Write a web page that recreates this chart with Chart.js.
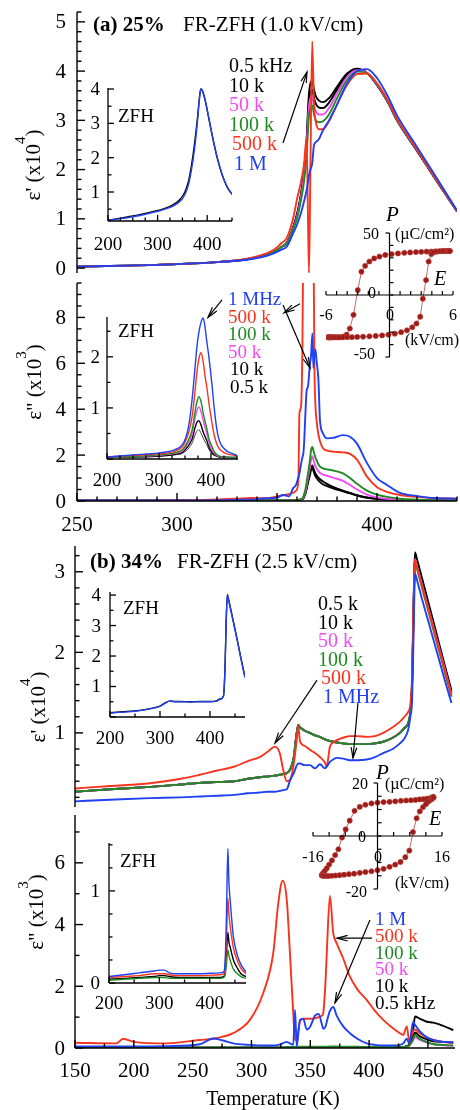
<!DOCTYPE html>
<html>
<head>
<meta charset="utf-8">
<title>FR-ZFH dielectric response</title>
<script src="https://cdn.jsdelivr.net/npm/chart.js@4.4.1/dist/chart.umd.min.js"></script>
<style>
  html, body { margin: 0; padding: 0; background: #fff; }
  #wrap { position: relative; width: 460px; height: 1110px; overflow: hidden; background: #fff; }
  #wrap canvas { position: absolute; left: 0; top: 0; }
</style>
</head>
<body>
<div id="wrap"></div>
<script>
// ---------------- data ----------------

// (a) 25%  eps' x10^4, main panel
const tA1 = [250,275,300,320,335,342,347,350,352,355,358,360,362,363.5,364.8,365.5,366,366.7,367.6,368.5,369.5,371,373,376,380,385,390,395,400,405,410,420,430,440];
const a1_05k = [0.03,0.05,0.08,0.12,0.18,0.24,0.30,0.36,0.42,0.52,0.82,1.10,1.50,2.00,2.60,3.20,3.55,3.75,3.80,3.62,3.48,3.40,3.37,3.45,3.68,3.95,4.05,3.96,3.72,3.40,3.00,2.38,1.76,1.15];
const a1_10k = [0.03,0.05,0.08,0.12,0.18,0.24,0.30,0.36,0.42,0.52,0.82,1.08,1.48,1.95,2.55,3.10,3.40,3.58,3.62,3.45,3.33,3.26,3.25,3.36,3.62,3.92,4.04,3.96,3.72,3.40,3.00,2.38,1.76,1.15];
const a1_50k = [0.03,0.05,0.08,0.12,0.18,0.24,0.30,0.36,0.42,0.51,0.80,1.05,1.45,1.88,2.48,3.00,3.28,3.45,3.48,3.30,3.18,3.12,3.12,3.25,3.55,3.88,4.02,3.96,3.73,3.41,3.01,2.39,1.77,1.15];
const a1_100k = [0.03,0.05,0.08,0.12,0.18,0.24,0.30,0.37,0.43,0.50,0.78,1.00,1.38,1.75,2.30,2.80,3.08,3.25,3.30,3.12,3.00,2.96,2.98,3.12,3.45,3.82,3.99,3.96,3.74,3.42,3.02,2.40,1.78,1.16];
const a1_500k = [0.03,0.05,0.08,0.12,0.19,0.26,0.34,0.42,0.50,0.62,1.00,1.40,1.75,2.10,2.64,1.00,-0.10,2.00,4.60,3.30,2.95,2.82,2.82,2.98,3.32,3.72,3.94,3.95,3.75,3.43,3.03,2.41,1.78,1.16];
const a1_1M = [0.03,0.05,0.08,0.12,0.17,0.22,0.28,0.33,0.37,0.44,0.70,0.88,1.12,1.35,1.58,1.75,1.88,2.00,2.12,2.50,2.56,2.62,2.80,3.00,3.32,3.75,4.00,4.04,3.86,3.52,3.10,2.46,1.82,1.17];

// (a) inset, ZFH eps'
const tA1i = [200,250,300,330,345,355,362,368,374,380,384,387,390,395,400,410,420,430,440,450];
const a1i_05k = [0.18,0.30,0.46,0.62,0.78,1.00,1.30,1.75,2.35,3.10,3.70,4.00,3.95,3.72,3.38,2.65,2.00,1.50,1.15,0.93];
const a1i_1M = [0.17,0.28,0.44,0.58,0.72,0.92,1.20,1.62,2.20,3.00,3.65,4.00,3.97,3.75,3.40,2.67,2.02,1.52,1.16,0.94];

// (a) 25%  eps'' x10^3, main panel
const tA2 = [250,300,330,337,345,350,353,356,358,359.5,360.7,361.2,362,362.7,363.2,363.6,364.2,364.8,365.5,366.5,367.0,367.7,368.2,368.7,369.2,369.8,370.7,371.5,373,375,378,383,386.5,390,395,400,405,411.5,420,428,440];
const a2_500k = [0.02,0.03,0.10,0.13,0.12,0.20,0.25,0.30,0.35,0.45,0.90,3.80,4.10,6.70,12,14,14,14,14,14,14,14,12,6.0,4.2,3.5,2.9,2.6,2.3,2.2,2.15,2.12,2.05,1.8,1.06,0.6,0.4,0.26,0.18,0.13,0.10];
const a2_1M = [0.02,0.02,0.05,0.06,0.12,0.15,0.26,0.20,0.55,0.70,1.04,1.20,1.60,1.90,2.10,2.60,3.80,4.80,5.00,6.00,6.30,7.30,5.80,6.40,6.60,6.10,5.30,3.50,2.95,2.73,2.75,2.87,2.80,2.50,1.65,1.00,0.70,0.35,0.22,0.13,0.10];
const a2_100k = [0.02,0.02,0.02,0.02,0.02,0.02,0.02,0.02,0.03,0.04,0.05,0.06,0.08,0.12,0.20,0.30,0.50,0.80,1.20,1.80,2.20,2.35,2.20,2.05,1.90,1.78,1.60,1.50,1.42,1.38,1.33,1.20,1.00,0.75,0.45,0.28,0.18,0.10,0.06,0.04,0.03];
const a2_50k = [0.02,0.02,0.02,0.02,0.02,0.02,0.02,0.02,0.03,0.04,0.05,0.06,0.07,0.10,0.16,0.25,0.40,0.65,1.00,1.50,1.80,1.95,1.80,1.65,1.52,1.42,1.30,1.22,1.15,1.10,1.02,0.88,0.70,0.50,0.28,0.16,0.10,0.06,0.04,0.03,0.02];
const a2_10k = [0.02,0.02,0.02,0.02,0.02,0.02,0.02,0.02,0.03,0.03,0.04,0.05,0.06,0.08,0.12,0.20,0.35,0.55,0.85,1.25,1.45,1.55,1.42,1.30,1.20,1.12,1.02,0.95,0.85,0.75,0.62,0.45,0.35,0.25,0.15,0.10,0.07,0.05,0.03,0.02,0.02];
const a2_05k = [0.02,0.02,0.02,0.02,0.02,0.02,0.02,0.02,0.03,0.03,0.04,0.05,0.06,0.08,0.12,0.20,0.33,0.52,0.80,1.15,1.35,1.45,1.32,1.20,1.08,1.00,0.90,0.82,0.72,0.65,0.55,0.42,0.33,0.24,0.14,0.09,0.06,0.04,0.03,0.02,0.02];

// (a) inset, ZFH eps''
const tA2i = [200,250,300,330,345,352,358,364,369,373,377,381,385,389,392,396,402,406,411,415,420,430,440,450];
const a2i_1M = [0.04,0.08,0.12,0.18,0.28,0.43,0.70,1.20,1.75,2.20,2.50,2.68,2.76,2.55,2.30,2.00,1.45,1.02,0.60,0.40,0.27,0.16,0.11,0.07];
const a2i_500k = [0.04,0.07,0.10,0.15,0.24,0.37,0.55,0.85,1.30,1.70,1.98,2.08,1.90,1.60,1.41,1.10,0.70,0.48,0.30,0.22,0.16,0.10,0.08,0.06];
const a2i_100k = [0.03,0.05,0.08,0.12,0.18,0.28,0.40,0.58,0.90,1.12,1.22,1.12,0.90,0.72,0.60,0.40,0.24,0.15,0.09,0.06,0.05,0.04,0.03,0.03];
const a2i_50k = [0.03,0.05,0.07,0.11,0.16,0.25,0.35,0.50,0.78,0.95,1.02,0.92,0.75,0.60,0.50,0.33,0.18,0.12,0.07,0.05,0.04,0.03,0.03,0.03];
const a2i_10k = [0.03,0.04,0.06,0.09,0.13,0.20,0.28,0.40,0.60,0.72,0.75,0.66,0.53,0.43,0.36,0.24,0.13,0.09,0.06,0.04,0.03,0.03,0.03,0.03];
const a2i_05k = [0.03,0.04,0.05,0.08,0.11,0.16,0.22,0.32,0.46,0.55,0.57,0.50,0.41,0.33,0.28,0.19,0.10,0.07,0.05,0.04,0.03,0.03,0.03,0.03];

// (b) 34%  eps' x10^4, main panel
const tB1 = [150,180,214,240,256,270,285,297,307,314,320,324,327,330,333,336,338,339.8,341.2,345,349.7,354,358.2,362.5,363.9,366.7,369.5,372.4,378,383.7,390,398,405,412,420,426.2,430,433.2,435,436.5,437.5,438.3,439,441,445,450,455,460,465,470];
const b1_05k = [0.27,0.30,0.33,0.36,0.38,0.39,0.40,0.43,0.45,0.46,0.47,0.48,0.49,0.50,0.55,0.70,0.95,1.10,1.07,1.03,1.00,0.97,0.95,0.92,0.91,0.90,0.89,0.88,0.87,0.86,0.86,0.86,0.87,0.89,0.94,1.00,1.06,1.12,1.25,1.62,2.36,2.95,3.24,3.14,2.92,2.64,2.36,2.08,1.80,1.53];
const b1_10k = [0.27,0.30,0.33,0.36,0.38,0.39,0.40,0.43,0.45,0.46,0.47,0.48,0.49,0.50,0.55,0.70,0.95,1.10,1.07,1.03,1.00,0.97,0.95,0.92,0.91,0.90,0.89,0.88,0.87,0.86,0.86,0.86,0.87,0.89,0.94,1.00,1.06,1.12,1.25,1.60,2.34,2.92,3.20,3.10,2.88,2.60,2.32,2.05,1.78,1.50];
const b1_50k = [0.27,0.30,0.33,0.36,0.38,0.39,0.40,0.43,0.45,0.46,0.47,0.48,0.49,0.50,0.55,0.70,0.95,1.10,1.07,1.03,1.00,0.97,0.95,0.92,0.91,0.90,0.89,0.88,0.87,0.86,0.86,0.86,0.87,0.89,0.94,1.00,1.06,1.12,1.25,1.60,2.32,2.88,3.16,3.06,2.84,2.57,2.30,2.03,1.76,1.48];
const b1_100k = [0.27,0.30,0.33,0.36,0.38,0.39,0.40,0.43,0.45,0.46,0.47,0.48,0.49,0.50,0.55,0.70,0.95,1.10,1.07,1.03,1.00,0.97,0.95,0.92,0.91,0.90,0.89,0.88,0.87,0.86,0.86,0.86,0.87,0.89,0.94,1.00,1.06,1.12,1.25,1.60,2.30,2.85,3.12,3.02,2.80,2.53,2.26,1.99,1.72,1.45];
const b1_500k = [0.31,0.34,0.375,0.43,0.48,0.53,0.58,0.65,0.70,0.77,0.83,0.75,0.54,0.40,0.42,0.62,0.85,1.08,0.90,0.84,0.79,0.75,0.70,0.63,0.58,0.83,0.88,0.91,0.94,0.96,0.96,0.95,0.96,1.00,1.07,1.14,1.20,1.26,1.35,1.70,2.40,2.90,3.15,3.04,2.82,2.55,2.28,2.01,1.74,1.47];
const b1_1M = [0.15,0.17,0.19,0.20,0.21,0.22,0.23,0.25,0.26,0.27,0.27,0.28,0.29,0.30,0.42,0.50,0.58,0.62,0.62,0.60,0.60,0.56,0.61,0.56,0.58,0.64,0.67,0.69,0.68,0.66,0.66,0.67,0.70,0.75,0.80,0.87,0.93,1.04,1.20,1.40,2.00,2.60,2.98,2.88,2.66,2.40,2.14,1.88,1.62,1.37];

// (b) inset, ZFH eps'
const tB1i = [200,225,250,275,300,310,320,330,340,360,380,400,413,420,427,430,432.5,434.7,437,441,447,455,462,470];
const b1i_05k = [0.14,0.17,0.20,0.26,0.36,0.46,0.53,0.51,0.51,0.50,0.51,0.51,0.53,0.59,0.70,1.60,3.20,4.02,3.87,3.57,3.11,2.49,1.92,1.31];
const b1i_1M = [0.13,0.16,0.19,0.25,0.35,0.45,0.52,0.50,0.50,0.49,0.50,0.50,0.52,0.58,0.69,1.60,3.20,4.00,3.85,3.55,3.09,2.47,1.90,1.29];

// (b) 34%  eps'' x10^3, main panel
const tB2 = [150,185,191,200,228,256,267.5,275,284.5,298.7,310,318.5,322.8,326.5,330,332.7,335.5,337,338.5,341.2,344,347,350,354,357,360,361,363,364,366.7,369.5,372.4,378,383.7,390,397.9,405,412,420,426.2,429,432,434,437.5,439,443,449,454.5,463,471.5];
const b2_500k = [0.17,0.15,0.30,0.20,0.15,0.26,0.30,0.36,0.48,0.91,1.78,3.07,4.70,5.42,4.80,3.07,1.13,0.26,0.30,0.85,0.95,0.95,0.95,0.96,1.00,1.05,1.13,2.20,3.07,4.93,3.72,3.40,2.90,2.31,1.90,1.56,1.20,0.91,0.65,0.48,0.42,0.70,0.25,0.55,0.60,0.48,0.35,0.26,0.20,0.15];
const b2_1M = [0.05,0.05,0.05,0.05,0.06,0.12,0.31,0.25,0.15,0.10,0.08,0.08,0.10,0.15,0.20,0.15,0.10,1.23,0.05,0.91,0.95,0.60,0.70,1.05,1.10,0.75,0.62,0.70,0.85,1.20,1.33,1.05,0.70,0.48,0.30,0.15,0.10,0.08,0.08,0.10,0.15,0.30,0.15,0.85,0.75,0.55,0.35,0.26,0.20,0.18];
const b2_100k = [0.02,0.02,0.02,0.02,0.02,0.02,0.02,0.02,0.02,0.02,0.02,0.02,0.02,0.02,0.03,0.03,0.03,0.04,0.04,0.04,0.04,0.04,0.04,0.04,0.04,0.04,0.04,0.04,0.04,0.05,0.05,0.05,0.04,0.04,0.04,0.03,0.03,0.03,0.03,0.03,0.03,0.05,0.08,0.30,0.42,0.30,0.20,0.13,0.10,0.08];
const b2_50k = [0.01,0.01,0.01,0.01,0.01,0.01,0.01,0.01,0.01,0.01,0.01,0.01,0.01,0.01,0.02,0.02,0.02,0.02,0.02,0.02,0.02,0.02,0.02,0.02,0.02,0.02,0.02,0.02,0.02,0.03,0.03,0.03,0.02,0.02,0.02,0.02,0.02,0.02,0.02,0.02,0.02,0.04,0.07,0.25,0.35,0.26,0.18,0.12,0.09,0.07];
const b2_10k = [0.01,0.01,0.01,0.01,0.01,0.01,0.01,0.01,0.01,0.01,0.01,0.01,0.01,0.01,0.01,0.01,0.01,0.01,0.01,0.01,0.01,0.01,0.01,0.01,0.01,0.01,0.01,0.01,0.01,0.01,0.01,0.01,0.01,0.01,0.01,0.01,0.01,0.01,0.01,0.01,0.02,0.05,0.10,0.35,0.50,0.38,0.28,0.22,0.20,0.18];
const b2_05k = [0.01,0.01,0.01,0.01,0.01,0.01,0.01,0.01,0.01,0.01,0.01,0.01,0.01,0.01,0.01,0.01,0.01,0.01,0.01,0.01,0.01,0.01,0.01,0.01,0.01,0.01,0.01,0.01,0.01,0.01,0.01,0.01,0.01,0.01,0.01,0.01,0.01,0.01,0.01,0.01,0.03,0.06,0.12,0.60,1.02,0.95,0.85,0.82,0.72,0.58];

// (b) inset, ZFH eps''
const tB2i = [200,230,260,290,300,310,320,340,380,420,428,431,433,436,438,441,447,455,462,472];
const b2i_1M = [0.07,0.09,0.11,0.13,0.14,0.14,0.11,0.10,0.10,0.11,0.12,0.30,0.68,1.46,1.10,0.87,0.50,0.30,0.20,0.12];
const b2i_500k = [0.06,0.07,0.08,0.10,0.10,0.10,0.09,0.08,0.08,0.09,0.10,0.20,0.45,0.92,0.75,0.60,0.38,0.24,0.16,0.10];
const b2i_05k = [0.04,0.05,0.06,0.07,0.08,0.08,0.07,0.06,0.06,0.06,0.07,0.15,0.30,0.55,0.45,0.38,0.25,0.16,0.10,0.07];
const b2i_100k = [0.03,0.04,0.05,0.06,0.06,0.06,0.05,0.05,0.05,0.05,0.06,0.10,0.20,0.36,0.30,0.24,0.15,0.10,0.07,0.05];

// P-E loops (E in kV/cm, P in uC/cm2)
const loopA_E = [5.7,5.6,5.45,5.25,5.0,4.7,4.35,3.95,3.5,3.0,2.5,1.95,1.4,0.8,0.2,-0.4,-0.95,-1.45,-1.9,-2.3,-2.65,-3.0,-3.4,-3.75,-4.05,-4.35,-4.65,-4.9,-5.15,-5.35,-5.5,-5.65,-5.75,-5.8,
                 -5.8,-5.75,-5.65,-5.5,-5.3,-5.05,-4.75,-4.4,-4.0,-3.55,-3.05,-2.5,-1.9,-1.3,-0.7,-0.1,0.5,1.1,1.65,2.15,2.55,2.9,3.15,3.45,3.7,3.95,4.2,4.5,4.8,5.05,5.3,5.5,5.6,5.7];
const loopA_P = [35.5,35.5,35.5,35.5,35.5,35.3,35.2,35.0,35.0,34.8,34.6,34.3,34.0,33.5,33.0,32.3,31.0,29.5,27.0,23.5,18.8,4.0,-16.0,-27.0,-32.0,-33.5,-34.0,-34.0,-34.0,-34.0,-34.0,-34.0,-34.0,-34.0,
                 -34.2,-34.2,-34.2,-34.2,-34.2,-34.2,-34.2,-34.1,-34.0,-34.0,-33.8,-33.6,-33.3,-33.0,-32.6,-32.0,-31.2,-30.0,-28.5,-26.0,-23.0,-17.5,-3.0,12.0,27.0,33.0,34.5,35.0,35.3,35.4,35.5,35.5,35.5,35.5];
const loopB_E = [13.9,13.8,13.6,13.2,12.7,12.1,11.3,10.4,9.4,8.3,7.1,5.8,4.4,3.0,1.5,0,-1.5,-3.0,-4.4,-5.7,-6.9,-7.9,-8.8,-9.7,-10.5,-11.3,-12.0,-12.6,-13.1,-13.5,-13.7,-13.8,
                 -13.8,-13.6,-13.2,-12.7,-12.1,-11.3,-10.4,-9.4,-8.3,-7.1,-5.8,-4.4,-3.0,-1.5,0,1.5,3.0,4.4,5.7,6.9,7.9,8.8,9.7,10.5,11.3,12.0,12.6,13.1,13.5,13.7,13.9];
const loopB_P = [14.6,14.8,14.6,14.3,14.1,14.0,13.9,13.8,13.6,13.5,13.4,13.3,13.1,12.9,12.8,12.6,12.3,11.8,11.0,9.5,5.8,2.5,-0.6,-5.0,-7.2,-9.2,-10.8,-12.2,-13.2,-14.0,-14.5,-14.8,
                 -14.8,-15.0,-15.1,-15.1,-15.1,-15.0,-14.9,-14.8,-14.6,-14.4,-14.2,-13.9,-13.6,-13.3,-12.9,-12.4,-11.6,-10.8,-9.8,-8.0,-5.5,1.5,6.7,9.3,10.9,12.0,13.0,13.6,14.0,14.3,14.6];

// ---------------- drawing helpers ----------------
const S = '"Liberation Serif", "Times New Roman", serif';
const COL = { k: '#000000', m: '#f24cf2', g: '#1f8a22', r: '#f7341d', b: '#2040f2' };
const wrap = document.getElementById('wrap');

function pts(xs, ys) { return xs.map((x, i) => ({ x: x, y: ys[i] })); }

// curves vs temperature: smooth but never overshooting
function ser(xs, ys, color, w) {
  return { data: pts(xs, ys), borderColor: color, borderWidth: w, showLine: true, pointRadius: 0,
           fill: false, cubicInterpolationMode: 'monotone' };
}

function line(c, x1, y1, x2, y2) { c.beginPath(); c.moveTo(x1, y1); c.lineTo(x2, y2); c.stroke(); }

function tickVals(min, max, step) {
  const out = [];
  const i0 = Math.ceil(min / step - 1e-6), i1 = Math.floor(max / step + 1e-6);
  for (let i = i0; i <= i1; i++) out.push(i * step);
  return out;
}
function isMult(v, s) { const r = v / s; return Math.abs(r - Math.round(r)) < 1e-6; }

function drawY(c, xs, ys, a, q) {
  const X = q.zero ? xs.getPixelForValue(0) : a.left;
  line(c, X, a.top, X, a.bottom);
  tickVals(ys.min, ys.max, q.minor).forEach(v => {
    const Y = ys.getPixelForValue(v);
    let d = 1;
    if (q.endsOut && (Math.abs(v - ys.max) < 1e-6 || Math.abs(v - ys.min) < 1e-6)) d = -1;
    line(c, X, Y, X + d * (isMult(v, q.major) ? q.len : q.mlen), Y);
  });
  c.font = q.font || ('21px ' + S); c.textAlign = 'right'; c.textBaseline = 'middle';
  (q.labels || []).forEach(v => c.fillText(String(v), q.lx, ys.getPixelForValue(v) + 1));
}

function drawX(c, xs, ys, a, q) {
  const Y = q.zero ? ys.getPixelForValue(0) : a.bottom;
  line(c, a.left, Y, a.right, Y);
  tickVals(xs.min, xs.max, q.minor).forEach(v => {
    const X = xs.getPixelForValue(v);
    line(c, X, Y, X, Y - (isMult(v, q.major) ? q.len : q.mlen));
  });
  c.font = q.font || ('21px ' + S); c.textAlign = 'center'; c.textBaseline = 'middle';
  (q.labels || []).forEach(v => c.fillText(String(v), xs.getPixelForValue(v), q.ly));
}

function arrow(c, x1, y1, x2, y2) {
  c.lineWidth = 1.2;
  line(c, x1, y1, x2, y2);
  const ang = Math.atan2(y2 - y1, x2 - x1), L = 11, w = 0.26;
  c.beginPath();
  c.moveTo(x2 - L * Math.cos(ang - w), y2 - L * Math.sin(ang - w));
  c.lineTo(x2, y2);
  c.lineTo(x2 - L * Math.cos(ang + w), y2 - L * Math.sin(ang + w));
  c.stroke();
}

function text(c, t) {
  c.save();
  c.fillStyle = t.color || '#000';
  c.textBaseline = 'alphabetic';
  c.translate(t.x, t.y);
  if (t.rot) c.rotate(-Math.PI / 2);
  if (t.parts) {
    let w = 0;
    t.parts.forEach(p => { c.font = p[1] ? t.supFont : t.font; w += c.measureText(p[0]).width; });
    let x = -w / 2;
    c.textAlign = 'left';
    t.parts.forEach(p => {
      c.font = p[1] ? t.supFont : t.font;
      c.fillText(p[0], x, p[1] ? -t.supDy : 0);
      x += c.measureText(p[0]).width;
    });
  } else {
    c.font = t.font || ('20px ' + S);
    c.textAlign = t.align || 'left';
    c.fillText(t.s, 0, 0);
  }
  c.restore();
}

function decor(cfg) {
  return {
    id: 'decor',
    afterDatasetsDraw(chart) {
      const c = chart.ctx, xs = chart.scales.x, ys = chart.scales.y, a = chart.chartArea;
      c.save();
      c.strokeStyle = '#000'; c.fillStyle = '#000'; c.lineWidth = cfg.lw || 1.4;
      if (cfg.y) drawY(c, xs, ys, a, cfg.y);
      c.lineWidth = cfg.lw || 1.4;
      if (cfg.x) drawX(c, xs, ys, a, cfg.x);
      (cfg.arrows || []).forEach(ar => arrow(c,
        xs.getPixelForValue(ar[0]), ys.getPixelForValue(ar[1]),
        xs.getPixelForValue(ar[2]), ys.getPixelForValue(ar[3])));
      (cfg.texts || []).forEach(t => text(c, t));
      c.restore();
    }
  };
}

// box = [left, top, right, bottom] of the plot area in page pixels
function panel(box, xr, yr, datasets, cfg) {
  const cv = document.createElement('canvas');
  cv.width = 460; cv.height = 1110;
  cv.style.width = '460px'; cv.style.height = '1110px';
  wrap.appendChild(cv);
  return new Chart(cv.getContext('2d'), {
    type: 'scatter',
    data: { datasets: datasets },
    options: {
      responsive: false,
      animation: false,
      devicePixelRatio: 1,
      layout: { padding: { left: box[0], top: box[1], right: 460 - box[2], bottom: 1110 - box[3] } },
      scales: {
        x: { type: 'linear', min: xr[0], max: xr[1], display: false },
        y: { type: 'linear', min: yr[0], max: yr[1], display: false }
      },
      plugins: { legend: { display: false }, tooltip: { enabled: false } },
      elements: { point: { radius: 0 }, line: { tension: 0 } }
    },
    plugins: [decor(cfg)]
  });
}

function legend(x, y0, step, items, size) {
  return items.map((it, i) => ({ s: it[0], color: it[1], x: x + (it[2] || 0), y: y0 + i * step, font: size + 'px ' + S }));
}
function yTitle(prime, exp, x, y) {
  return { parts: [['\u03b5' + prime + ' (x10', 0], [exp, 1], [')', 0]], x: x, y: y, rot: true,
           font: '21px ' + S, supFont: '15px ' + S, supDy: 15 };
}

const W = 1.9, WI = 1.4;

// ---------------- (a) eps' ----------------
panel([77, 12, 457, 273], [250, 440], [-0.1, 5.2], [
  ser(tA1, a1_1M, COL.b, W), ser(tA1, a1_500k, COL.r, W), ser(tA1, a1_100k, COL.g, W),
  ser(tA1, a1_50k, COL.m, W), ser(tA1, a1_10k, COL.k, W), ser(tA1, a1_05k, COL.k, W)
], {
  y: { minor: 0.2, major: 1, len: 8, mlen: 4.5, labels: [0, 1, 2, 3, 4, 5], lx: 66 },
  arrows: [[353, 2.54, 365, 3.98]],
  texts: [
    { s: '(a) 25%', x: 93, y: 31, font: 'bold 21px ' + S },
    { s: 'FR-ZFH (1.0 kV/cm)', x: 183, y: 31, font: '21px ' + S },
    yTitle("'", '4', 40, 165)
  ].concat(legend(229, 72, 19.6, [['0.5 kHz', COL.k], ['10 k', COL.k], ['50 k', COL.m], ['100 k', COL.g], ['500 k', COL.r, 3], ['1 M', COL.b, 5]], 20))
});

panel([108, 88, 232, 221], [200, 450], [0.155, 4.03], [
  ser(tA1i, a1i_1M, COL.b, WI), ser(tA1i, a1i_05k, COL.k, WI)
], {
  lw: 1.3,
  y: { minor: 0.5, major: 1, len: 6, mlen: 3.5, labels: [1, 2, 3, 4], lx: 100, font: '19px ' + S },
  x: { minor: 25, major: 100, len: 6, mlen: 3.5, labels: [200, 300, 400], ly: 245, font: '19px ' + S },
  texts: [{ s: 'ZFH', x: 118, y: 122, font: '19px ' + S }]
});

// ---------------- (a) eps'' ----------------
panel([77, 283, 457, 501], [250, 440], [0, 9.5], [
  ser(tA2, a2_1M, COL.b, W), ser(tA2, a2_500k, COL.r, W), ser(tA2, a2_100k, COL.g, W),
  ser(tA2, a2_50k, COL.m, W), ser(tA2, a2_10k, COL.k, W), ser(tA2, a2_05k, COL.k, W)
], {
  y: { minor: 0.5, major: 2, len: 8, mlen: 4.5, labels: [0, 2, 4, 6, 8], lx: 66 },
  x: { minor: 10, major: 50, len: 8, mlen: 4.5, labels: [250, 300, 350, 400], ly: 525 },
  arrows: [[322.5, 8.76, 315.5, 8.0], [353, 8.54, 366.5, 5.8], [361.5, 8.6, 353.5, 8.2]],
  texts: [yTitle('"', '3', 41, 382)]
    .concat(legend(228, 305, 17.5, [['1 MHz', COL.b], ['500 k', COL.r], ['100 k', COL.g], ['50 k', COL.m], ['10 k', COL.k, 2], ['0.5 k', COL.k, 2]], 19))
});

panel([107, 317, 238, 459], [200, 452], [0, 2.78], [
  ser(tA2i, a2i_1M, COL.b, WI), ser(tA2i, a2i_500k, COL.r, WI), ser(tA2i, a2i_100k, COL.g, WI),
  ser(tA2i, a2i_50k, COL.m, WI), ser(tA2i, a2i_10k, COL.k, WI), ser(tA2i, a2i_05k, '#444', 1.0)
], {
  lw: 1.3,
  y: { minor: 0.5, major: 1, len: 6, mlen: 3.5, labels: [1, 2], lx: 100, font: '19px ' + S },
  x: { minor: 25, major: 100, len: 6, mlen: 3.5, labels: [200, 300, 400], ly: 481, font: '19px ' + S },
  texts: [{ s: 'ZFH', x: 118, y: 337, font: '19px ' + S }]
});

// P-E loop (a)
panel([326, 233, 453, 357], [-6, 6], [-50, 50], [
  { data: pts(loopA_E, loopA_P), showLine: true, borderColor: '#c45a55', borderWidth: 0.9,
    pointRadius: 2.6, pointBackgroundColor: '#9c1b17', pointBorderColor: '#b8423d', pointBorderWidth: 0.6 }
], {
  lw: 1.2,
  y: { zero: true, minor: 10, major: 50, len: 4, mlen: 4, endsOut: true, labels: [] },
  x: { zero: true, minor: 1, major: 6, len: 4, mlen: 4, labels: [] },
  texts: [
    { s: 'P', x: 386, y: 221, font: 'italic 21px ' + S },
    { s: '(\u00b5C/cm\u00b2)', x: 395, y: 239, font: '16px ' + S },
    { s: '50', x: 379, y: 239, align: 'right', font: '16px ' + S },
    { s: '-50', x: 375, y: 359, align: 'right', font: '16px ' + S },
    { s: '0', x: 372, y: 298, align: 'center', font: '16px ' + S },
    { s: '-6', x: 326, y: 320, align: 'center', font: '16px ' + S },
    { s: '0', x: 390, y: 320, align: 'center', font: '16px ' + S },
    { s: '6', x: 453, y: 320, align: 'center', font: '16px ' + S },
    { s: 'E', x: 434, y: 285, font: 'italic 20px ' + S },
    { s: '(kV/cm)', x: 432, y: 345, align: 'center', font: '16px ' + S }
  ]
});

// ---------------- (b) eps' ----------------
panel([75, 546, 455, 807], [150, 473], [0.08, 3.32], [
  ser(tB1, b1_1M, COL.b, W), ser(tB1, b1_500k, COL.r, W), ser(tB1, b1_100k, COL.g, W),
  ser(tB1, b1_50k, COL.m, W), ser(tB1, b1_10k, COL.k, W), ser(tB1, b1_05k, COL.k, W)
], {
  y: { minor: 0.2, major: 1, len: 8, mlen: 4.5, labels: [1, 2, 3], lx: 65 },
  arrows: [[355.7, 1.656, 320, 0.874], [390.5, 1.37, 386.3, 0.688]],
  texts: [
    { s: '(b) 34%', x: 90, y: 568, font: 'bold 21px ' + S },
    { s: 'FR-ZFH (2.5 kV/cm)', x: 177, y: 568, font: '21px ' + S },
    yTitle("'", '4', 45, 707)
  ].concat(legend(318, 610, 18.6, [['0.5 k', COL.k], ['10 k', COL.k], ['50 k', COL.m], ['100 k', COL.g], ['500 k', COL.r, 3], ['1 MHz', COL.b, 5]], 20))
});

panel([110, 592, 245, 717], [200, 470], [0, 4.1], [
  ser(tB1i, b1i_1M, COL.b, WI), ser(tB1i, b1i_05k, COL.k, WI)
], {
  lw: 1.3,
  y: { minor: 0.5, major: 1, len: 6, mlen: 3.5, labels: [1, 2, 3, 4], lx: 101, font: '19px ' + S },
  x: { minor: 50, major: 100, len: 6, mlen: 3.5, labels: [200, 300, 400], ly: 739, font: '19px ' + S },
  texts: [{ s: 'ZFH', x: 123, y: 614, font: '19px ' + S }]
});

// ---------------- (b) eps'' ----------------
panel([75, 815, 455, 1048], [150, 473], [0, 7.55], [
  ser(tB2, b2_1M, COL.b, W), ser(tB2, b2_500k, COL.r, W), ser(tB2, b2_100k, COL.g, W),
  ser(tB2, b2_50k, COL.m, W), ser(tB2, b2_10k, COL.k, W), ser(tB2, b2_05k, COL.k, W)
], {
  y: { minor: 1, major: 2, len: 8, mlen: 4.5, labels: [0, 2, 4, 6], lx: 65 },
  x: { minor: 25, major: 50, len: 8, mlen: 4.5, labels: [150, 200, 250, 300, 350, 400, 450], ly: 1071 },
  arrows: [[402.4, 3.56, 372.7, 3.56], [400.7, 4.15, 371, 1.46]],
  texts: [
    yTitle('"', '3', 43, 912),
    { s: 'Temperature (K)', x: 273, y: 1105, align: 'center', font: '20px ' + S }
  ].concat(legend(375, 925, 16.8, [['1 M', COL.b], ['500 k', COL.r], ['100 k', COL.g], ['50 k', COL.m], ['10 k', COL.k], ['0.5 kHz', COL.k]], 19))
});

panel([109, 843, 246, 983], [200, 472], [0, 1.52], [
  ser(tB2i, b2i_1M, COL.b, WI), ser(tB2i, b2i_500k, COL.r, WI),
  ser(tB2i, b2i_100k, COL.g, WI), ser(tB2i, b2i_05k, COL.k, WI)
], {
  lw: 1.3,
  y: { minor: 0.25, major: 1, len: 6, mlen: 3.5, labels: [0, 1], lx: 100, font: '19px ' + S },
  x: { minor: 50, major: 100, len: 6, mlen: 3.5, labels: [200, 300, 400], ly: 1004, font: '19px ' + S },
  texts: [{ s: 'ZFH', x: 120, y: 867, font: '19px ' + S }]
});

// P-E loop (b)
panel([313, 783, 442, 889], [-16, 16], [-20, 20], [
  { data: pts(loopB_E, loopB_P), showLine: true, borderColor: '#c45a55', borderWidth: 0.9,
    pointRadius: 2.6, pointBackgroundColor: '#9c1b17', pointBorderColor: '#b8423d', pointBorderWidth: 0.6 }
], {
  lw: 1.2,
  y: { zero: true, minor: 5, major: 20, len: 4, mlen: 4, endsOut: true, labels: [] },
  x: { zero: true, minor: 4, major: 16, len: 4, mlen: 4, labels: [] },
  texts: [
    { s: 'P', x: 376, y: 779, font: 'italic 21px ' + S },
    { s: '(\u00b5C/cm\u00b2)', x: 385, y: 789, font: '16px ' + S },
    { s: '20', x: 368, y: 789, align: 'right', font: '16px ' + S },
    { s: '-20', x: 367, y: 897, align: 'right', font: '16px ' + S },
    { s: '0', x: 362, y: 842, align: 'center', font: '16px ' + S },
    { s: '-16', x: 313, y: 862, align: 'center', font: '16px ' + S },
    { s: '0', x: 378, y: 862, align: 'center', font: '16px ' + S },
    { s: '16', x: 442, y: 862, align: 'center', font: '16px ' + S },
    { s: 'E', x: 429, y: 825, font: 'italic 20px ' + S },
    { s: '(kV/cm)', x: 422, y: 888, align: 'center', font: '16px ' + S }
  ]
});
</script>
</body>
</html>
